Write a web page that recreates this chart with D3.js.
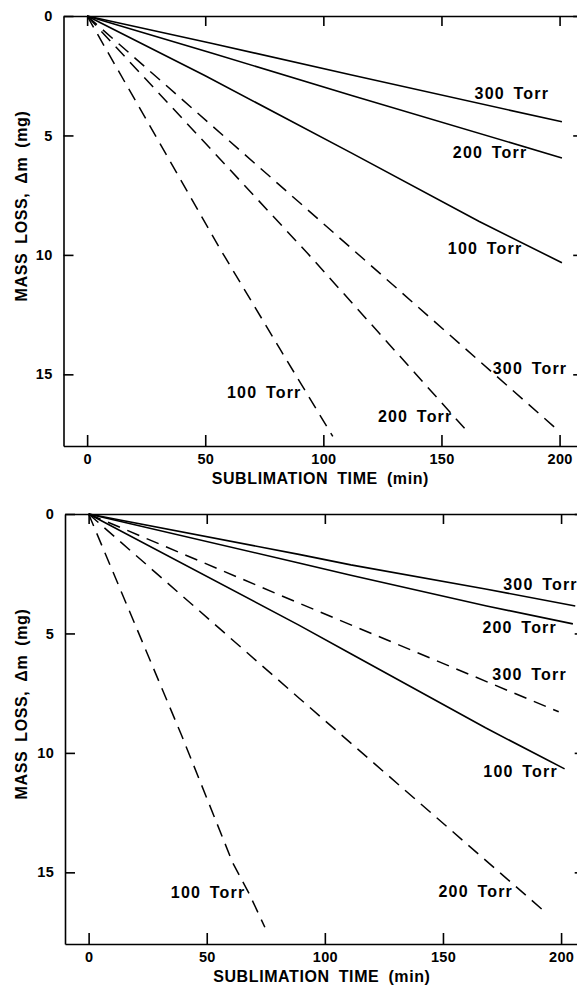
<!DOCTYPE html>
<html>
<head>
<meta charset="utf-8">
<script src="https://cdn.jsdelivr.net/npm/d3@7"></script>
<style>
  html, body { margin: 0; padding: 0; background: #fff; overflow: hidden; }
  svg { display: block; }
  svg text { font-family: "Liberation Sans", Arial, Helvetica, sans-serif; font-weight: bold; fill: #000; }
  .axis path, .axis line { stroke: #000; stroke-width: 1.6; }
  .axis text { font-size: 14.5px; letter-spacing: 0.3px; }
  .title { font-size: 16px; letter-spacing: 0.6px; word-spacing: 4px; }
  .lbl { font-size: 16px; letter-spacing: 1.2px; word-spacing: 3px; }
</style>
</head>
<body>
<svg id="chart" width="577" height="985"></svg>
<script>
// tick values
var xTicks = [0, 50, 100, 150, 200];
var yTicks = [0, 5, 10, 15];

// upper panel: [time (min), mass loss (mg)]
var topSolid300 = [[0, 0], [53, 1.15], [112, 2.47], [201, 4.43]];
var topSolid200 = [[0, 0], [53, 1.56], [112, 3.33], [201, 5.94]];
var topSolid100 = [[0, 0], [50, 2.5], [112, 5.74], [166, 8.6], [201, 10.33]];
var topDash300 = [[0, 0], [90, 7.82], [200, 17.4]];
var topDash200 = [[0, 0], [93, 9.9], [161.5, 17.45]];
var topDash100 = [[0, 0], [56, 9.7], [82, 14.0], [104, 17.6]];

// lower panel
var botSolid300 = [[0, 0], [89, 1.69], [111, 2.13], [168, 3.14], [206, 3.85]];
var botSolid200 = [[0, 0], [89, 2.05], [111, 2.56], [168.5, 3.85], [205, 4.6]];
var botSolid100 = [[0, 0], [89, 4.65], [111, 5.85], [168, 8.95], [201.5, 10.67]];
var botDash300 = [[0, 0], [89, 3.73], [199, 8.28]];
var botDash200 = [[0, 0], [89, 7.7], [193.7, 16.7]];
var botDash100 = [[0, 0], [39.3, 9.25], [61, 14.6], [68, 15.9], [74.6, 17.3]];

// label text and anchor point [time, mass]
var topLabels = [
  ["300 Torr", 164, 3.47], ["200 Torr", 154.8, 5.94], ["100 Torr", 152.7, 9.96],
  ["300 Torr", 171.7, 14.98], ["200 Torr", 123.1, 16.99], ["100 Torr", 59.2, 15.98]
];
var botLabels = [
  ["300 Torr", 175.5, 3.18], ["200 Torr", 166.7, 4.98], ["300 Torr", 170.9, 6.95],
  ["100 Torr", 167.1, 11.0], ["200 Torr", 148.1, 16.03], ["100 Torr", 34.8, 16.07]
];

var svg = d3.select("#chart");
var W = 519.7, H = 430;

function panel(left, top, solids, dashes, labels) {
  var x = d3.scaleLinear().domain([-10, 210]).range([0, W]);
  var y = d3.scaleLinear().domain([0, 18]).range([0, H]);
  var g = svg.append("g").attr("transform", "translate(" + left + "," + top + ")");

  g.append("g").attr("class", "axis")
    .call(d3.axisLeft(y).tickValues(yTicks).tickSizeInner(-10).tickSizeOuter(0).tickPadding(11));
  g.append("g").attr("class", "axis").attr("transform", "translate(0," + H + ")")
    .call(d3.axisBottom(x).tickValues(xTicks).tickSizeInner(-11).tickSizeOuter(0).tickPadding(8));
  g.append("g").attr("class", "axis")
    .call(d3.axisTop(x).tickValues(xTicks).tickSizeInner(-10).tickSizeOuter(0).tickFormat(""));
  g.append("g").attr("class", "axis").attr("transform", "translate(" + W + ",0)")
    .call(d3.axisRight(y).tickValues(yTicks).tickSizeInner(-10).tickSizeOuter(0).tickFormat(""));
  g.selectAll(".axis .domain").attr("stroke-width", 2);

  var line = d3.line().x(function(d) { return x(d[0]); }).y(function(d) { return y(d[1]); });

  g.selectAll(".solid").data(solids).enter().append("path")
    .attr("class", "solid").attr("d", line)
    .attr("fill", "none").attr("stroke", "#000").attr("stroke-width", 1.6);
  g.selectAll(".dash").data(dashes).enter().append("path")
    .attr("class", "dash").attr("d", line)
    .attr("fill", "none").attr("stroke", "#000").attr("stroke-width", 1.5)
    .attr("stroke-dasharray", "13,8");

  g.selectAll(".lbl").data(labels).enter().append("text")
    .attr("class", "lbl")
    .attr("x", function(d) { return x(d[1]); })
    .attr("y", function(d) { return y(d[2]); })
    .text(function(d) { return d[0]; });

  g.append("text").attr("class", "title")
    .attr("x", x(100) - 3).attr("y", H + 38)
    .attr("text-anchor", "middle")
    .text("SUBLIMATION TIME (min)");
  g.append("text").attr("class", "title")
    .attr("transform", "translate(" + (27 - left) + "," + (H / 2 - 25) + ") rotate(-90)")
    .attr("text-anchor", "middle")
    .text("MASS LOSS, \u0394m (mg)");
}

panel(63.5, 16, [topSolid300, topSolid200, topSolid100], [topDash300, topDash200, topDash100], topLabels);
panel(65, 514, [botSolid300, botSolid200, botSolid100], [botDash300, botDash200, botDash100], botLabels);
</script>
</body>
</html>
